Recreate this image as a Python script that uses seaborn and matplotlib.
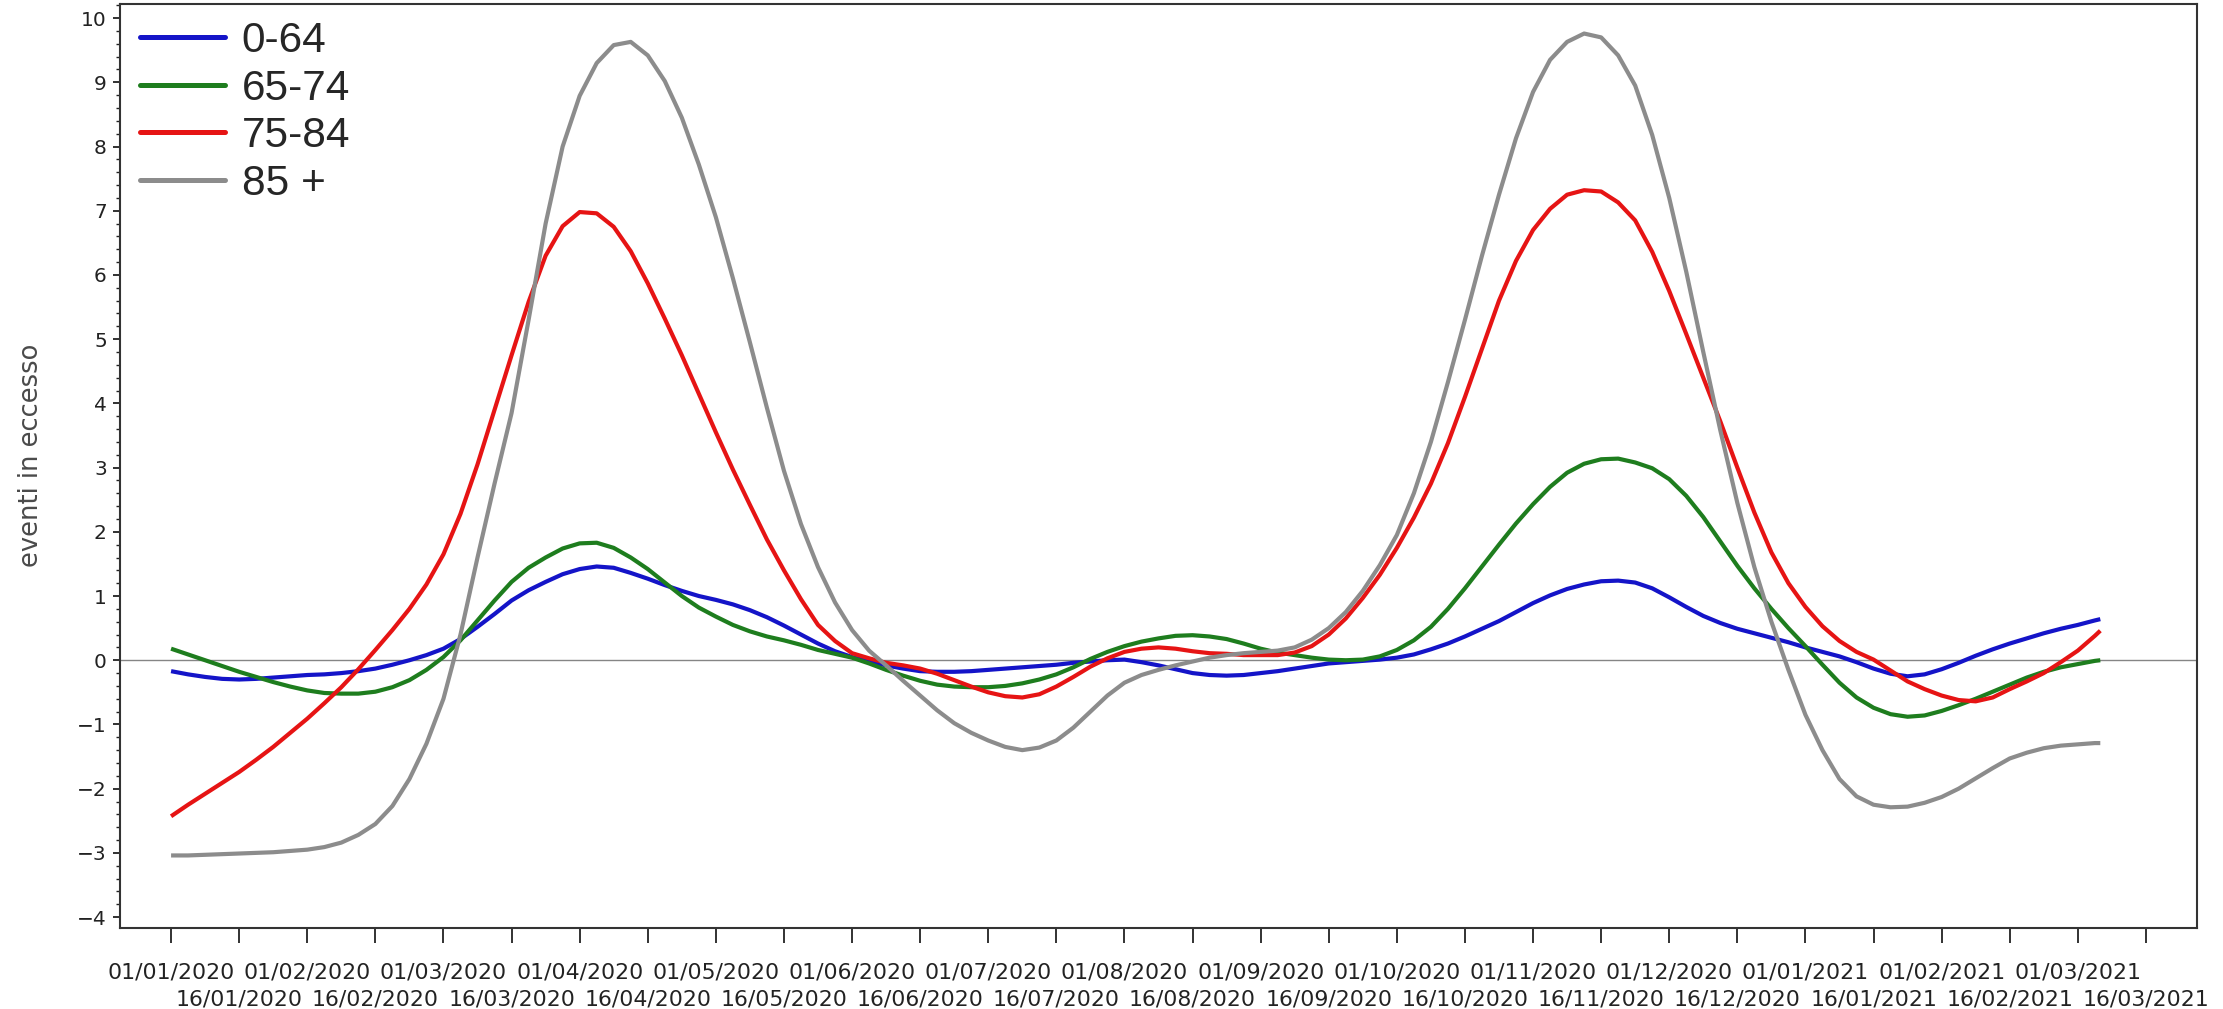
import numpy as np
import pandas as pd
import matplotlib
matplotlib.use("Agg")
import matplotlib.pyplot as plt
from matplotlib.ticker import MultipleLocator
from matplotlib.lines import Line2D
import seaborn as sns

# ---------------- data ----------------
# x position in half-month steps: 0 = 01/01/2020, 1 = 16/01/2020, ...
period_index = [0, 0.25, 0.5, 0.75, 1, 1.25, 1.5, 1.75, 2, 2.25, 2.5, 2.75,
                3, 3.25, 3.5, 3.75, 4, 4.25, 4.5, 4.75, 5, 5.25, 5.5, 5.75,
                6, 6.25, 6.5, 6.75, 7, 7.25, 7.5, 7.75, 8, 8.25, 8.5, 8.75,
                9, 9.25, 9.5, 9.75, 10, 10.25, 10.5, 10.75, 11, 11.25, 11.5, 11.75,
                12, 12.25, 12.5, 12.75, 13, 13.25, 13.5, 13.75, 14, 14.25, 14.5, 14.75,
                15, 15.25, 15.5, 15.75, 16, 16.25, 16.5, 16.75, 17, 17.25, 17.5, 17.75,
                18, 18.25, 18.5, 18.75, 19, 19.25, 19.5, 19.75, 20, 20.25, 20.5, 20.75,
                21, 21.25, 21.5, 21.75, 22, 22.25, 22.5, 22.75, 23, 23.25, 23.5, 23.75,
                24, 24.25, 24.5, 24.75, 25, 25.25, 25.5, 25.75, 26, 26.25, 26.5, 26.75,
                27, 27.25, 27.5, 27.75, 28, 28.25, 28.33]

eta_0_64 = [-0.17, -0.22, -0.26, -0.29, -0.30, -0.29, -0.27, -0.25, -0.23, -0.22, -0.20, -0.17,
            -0.13, -0.07, 0.00, 0.08, 0.18, 0.33, 0.52, 0.72, 0.93, 1.09, 1.22, 1.34,
            1.42, 1.46, 1.44, 1.36, 1.27, 1.17, 1.08, 1.00, 0.94, 0.87, 0.78, 0.67,
            0.54, 0.40, 0.26, 0.14, 0.05, -0.02, -0.08, -0.13, -0.17, -0.18, -0.18, -0.17,
            -0.15, -0.13, -0.11, -0.09, -0.07, -0.04, -0.02, 0.00, 0.01, -0.03, -0.08, -0.14,
            -0.20, -0.23, -0.24, -0.23, -0.20, -0.17, -0.13, -0.09, -0.05, -0.03, -0.01, 0.01,
            0.04, 0.09, 0.17, 0.26, 0.37, 0.49, 0.61, 0.75, 0.89, 1.01, 1.11, 1.18,
            1.23, 1.24, 1.21, 1.12, 0.98, 0.83, 0.69, 0.58, 0.49, 0.42, 0.35, 0.28,
            0.20, 0.13, 0.06, -0.03, -0.13, -0.21, -0.25, -0.22, -0.14, -0.04, 0.07, 0.17,
            0.26, 0.34, 0.42, 0.49, 0.55, 0.62, 0.64]

eta_65_74 = [0.18, 0.09, 0.00, -0.09, -0.18, -0.26, -0.34, -0.41, -0.47, -0.51, -0.52, -0.52,
             -0.49, -0.42, -0.31, -0.15, 0.05, 0.31, 0.62, 0.93, 1.22, 1.44, 1.60, 1.74,
             1.82, 1.83, 1.75, 1.60, 1.42, 1.21, 1.00, 0.82, 0.68, 0.55, 0.45, 0.37,
             0.31, 0.24, 0.16, 0.10, 0.04, -0.05, -0.15, -0.24, -0.32, -0.38, -0.41, -0.42,
             -0.42, -0.40, -0.36, -0.30, -0.22, -0.11, 0.02, 0.13, 0.22, 0.29, 0.34, 0.38,
             0.39, 0.37, 0.33, 0.26, 0.18, 0.12, 0.08, 0.04, 0.01, 0.00, 0.01, 0.06,
             0.16, 0.31, 0.52, 0.80, 1.12, 1.46, 1.80, 2.13, 2.43, 2.70, 2.92, 3.06,
             3.13, 3.14, 3.08, 2.99, 2.82, 2.56, 2.23, 1.85, 1.47, 1.12, 0.80, 0.50,
             0.22, -0.07, -0.35, -0.58, -0.74, -0.84, -0.88, -0.86, -0.79, -0.70, -0.60, -0.49,
             -0.38, -0.27, -0.18, -0.11, -0.06, -0.01, 0.00]

eta_75_84 = [-2.43, -2.25, -2.08, -1.91, -1.74, -1.55, -1.35, -1.13, -0.91, -0.67, -0.42, -0.14,
             0.16, 0.47, 0.80, 1.18, 1.65, 2.28, 3.05, 3.90, 4.75, 5.58, 6.30, 6.76,
             6.98, 6.96, 6.75, 6.37, 5.87, 5.32, 4.75, 4.15, 3.55, 2.97, 2.42, 1.88,
             1.40, 0.95, 0.55, 0.30, 0.11, 0.03, -0.04, -0.08, -0.13, -0.21, -0.31, -0.41,
             -0.50, -0.56, -0.58, -0.53, -0.41, -0.26, -0.10, 0.03, 0.13, 0.18, 0.20, 0.18,
             0.14, 0.11, 0.10, 0.08, 0.08, 0.08, 0.12, 0.22, 0.40, 0.65, 0.97, 1.33,
             1.75, 2.22, 2.75, 3.38, 4.10, 4.85, 5.60, 6.22, 6.70, 7.03, 7.25, 7.32,
             7.30, 7.13, 6.85, 6.36, 5.75, 5.08, 4.40, 3.72, 3.00, 2.30, 1.68, 1.20,
             0.83, 0.53, 0.30, 0.13, 0.01, -0.16, -0.33, -0.45, -0.55, -0.62, -0.64, -0.58,
             -0.45, -0.33, -0.20, -0.03, 0.15, 0.38, 0.46]

eta_85_plus = [-3.04, -3.04, -3.03, -3.02, -3.01, -3.00, -2.99, -2.97, -2.95, -2.91, -2.84, -2.72,
               -2.55, -2.27, -1.85, -1.30, -0.60, 0.40, 1.60, 2.75, 3.85, 5.30, 6.80, 8.00,
               8.79, 9.30, 9.58, 9.63, 9.42, 9.02, 8.45, 7.72, 6.90, 5.95, 4.95, 3.93,
               2.95, 2.12, 1.45, 0.90, 0.47, 0.15, -0.08, -0.32, -0.55, -0.78, -0.98, -1.13,
               -1.25, -1.35, -1.40, -1.36, -1.25, -1.05, -0.80, -0.55, -0.35, -0.23, -0.15, -0.08,
               -0.02, 0.04, 0.08, 0.11, 0.13, 0.15, 0.20, 0.32, 0.50, 0.75, 1.08, 1.48,
               1.95, 2.60, 3.40, 4.33, 5.30, 6.30, 7.25, 8.13, 8.85, 9.35, 9.63, 9.76,
               9.70, 9.42, 8.95, 8.18, 7.20, 6.05, 4.80, 3.58, 2.45, 1.45, 0.60, -0.15,
               -0.85, -1.40, -1.85, -2.12, -2.25, -2.29, -2.28, -2.22, -2.13, -2.00, -1.84, -1.68,
               -1.53, -1.44, -1.37, -1.33, -1.31, -1.29, -1.29]

series_names = ["0-64", "65-74", "75-84", "85 +"]
series_values = [eta_0_64, eta_65_74, eta_75_84, eta_85_plus]

tick_labels = ["01/01/2020", "16/01/2020", "01/02/2020", "16/02/2020",
               "01/03/2020", "16/03/2020", "01/04/2020", "16/04/2020",
               "01/05/2020", "16/05/2020", "01/06/2020", "16/06/2020",
               "01/07/2020", "16/07/2020", "01/08/2020", "16/08/2020",
               "01/09/2020", "16/09/2020", "01/10/2020", "16/10/2020",
               "01/11/2020", "16/11/2020", "01/12/2020", "16/12/2020",
               "01/01/2021", "16/01/2021", "01/02/2021", "16/02/2021",
               "01/03/2021", "16/03/2021"]

y_label = "eventi in eccesso"

# ---------------- styling ----------------
sns.set_style("white")
plt.rcParams["font.family"] = ["DejaVu Sans"]
plt.rcParams["axes.unicode_minus"] = True

colors = {"0-64": "#1414c8", "65-74": "#1e7d1e", "75-84": "#e61414", "85 +": "#8c8c8c"}

df = pd.concat(
    [pd.DataFrame({"t": period_index, "v": vals, "gruppo": name})
     for name, vals in zip(series_names, series_values)],
    ignore_index=True)

W, H = 2223, 1009
fig = plt.figure(figsize=(W / 100, H / 100), dpi=100)
fig.patch.set_facecolor("white")
ax = fig.add_axes([120 / W, 1 - 928 / H, 2077 / W, 924 / H])

ax.axhline(0, color="#858585", lw=1.0, zorder=1)

sns.lineplot(data=df, x="t", y="v", hue="gruppo", hue_order=series_names,
             palette=colors, linewidth=3.0, ax=ax, legend=False, zorder=3)
for ln in ax.get_lines():
    ln.set_solid_joinstyle("round")
    ln.set_solid_capstyle("butt")

# legend
handles = [Line2D([], [], color=colors[n], lw=3.6) for n in series_names]
ax.legend(handles, series_names, loc="upper left",
          bbox_to_anchor=(20 / 2077, 1 - 17 / 924), frameon=False,
          prop={"family": "Liberation Sans", "size": 30.5},
          handlelength=2.0, handletextpad=0.4, labelspacing=0.18,
          borderpad=0, borderaxespad=0)

# axes limits and ticks
ax.set_xlim(-0.75, 29.75)
ax.set_ylim(-4.17, 10.22)
ax.yaxis.set_major_locator(MultipleLocator(1))
ax.yaxis.set_minor_locator(MultipleLocator(0.2))

even_pos = list(range(0, len(tick_labels), 2))
odd_pos = list(range(1, len(tick_labels), 2))
ax.set_xticks(even_pos)
ax.set_xticklabels([tick_labels[k] for k in even_pos])
ax.set_xticks(odd_pos, minor=True)
ax.set_xticklabels([tick_labels[k] for k in odd_pos], minor=True)

ax.tick_params(axis="x", which="major", direction="out", length=11, width=1.3,
               pad=14, labelsize=15.8, colors="#222222", bottom=True)
ax.tick_params(axis="x", which="minor", direction="out", length=11, width=1.3,
               pad=33.5, labelsize=15.8, colors="#222222", bottom=True)
ax.tick_params(axis="y", which="major", direction="out", length=5, width=1.3,
               pad=4.5, labelsize=14.5, colors="#222222", left=True)
ax.tick_params(axis="y", which="minor", direction="out", length=3, width=1.0,
               left=True, colors="#222222")

for s in ax.spines.values():
    s.set_color("#333333")
    s.set_linewidth(1.5)
    s.set_visible(True)

ax.set_xlabel("")
ax.set_ylabel(y_label, fontsize=18.5, color="#4a4a4a")
ax.yaxis.set_label_coords(-0.0365, 0.512)

fig.savefig("out.png", dpi=100, facecolor="white")
